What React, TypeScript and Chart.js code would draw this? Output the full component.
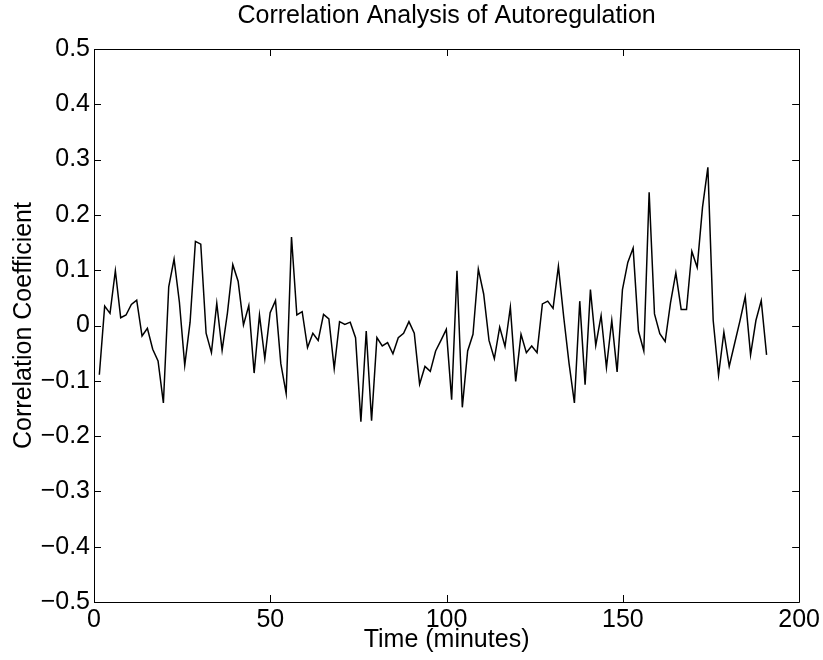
import { useEffect, useRef } from 'react';
import { Chart, registerables } from 'chart.js';

Chart.register(...registerables);

const TITLE = 'Correlation Analysis of Autoregulation';
const X_LABEL = 'Time (minutes)';
const Y_LABEL = 'Correlation Coefficient';

// sampling interval of the series, in minutes
const SAMPLE_INTERVAL_MIN = 1.514;

const X_TICKS = [0, 50, 100, 150, 200];
const Y_TICKS = [-0.5, -0.4, -0.3, -0.2, -0.1, 0, 0.1, 0.2, 0.3, 0.4, 0.5];

const CORRELATION = [
  -0.089, 0.035, 0.022, 0.099, 0.014, 0.019, 0.038, 0.046, -0.019, -0.005,
  -0.043, -0.064, -0.14, 0.07, 0.12, 0.042, -0.072, 0.006, 0.152, 0.147,
  -0.014, -0.049, 0.04, -0.045, 0.023, 0.11, 0.08, 0.001, 0.036, -0.086,
  0.019, -0.06, 0.023, 0.045, -0.069, -0.123, 0.16, 0.019, 0.025, -0.04,
  -0.014, -0.027, 0.02, 0.012, -0.078, 0.007, 0.002, 0.006, -0.022, -0.174,
  -0.01, -0.172, -0.022, -0.037, -0.031, -0.051, -0.022, -0.014, 0.007, -0.014,
  -0.106, -0.074, -0.083, -0.046, -0.027, -0.007, -0.134, 0.099, -0.148, -0.046,
  -0.016, 0.102, 0.057, -0.027, -0.06, -0.003, -0.038, 0.033, -0.101, -0.016,
  -0.049, -0.037, -0.049, 0.039, 0.044, 0.031, 0.107, 0.015, -0.069, -0.14,
  0.044, -0.107, 0.065, -0.036, 0.018, -0.076, 0.009, -0.084, 0.065, 0.114,
  0.14, -0.01, -0.046, 0.241, 0.021, -0.015, -0.029, 0.041, 0.095, 0.029,
  0.029, 0.134, 0.105, 0.214, 0.286, 0.009, -0.09, -0.012, -0.074, -0.033,
  0.008, 0.052, -0.053, 0.009, 0.045, -0.053,
];

const FONT = 'Liberation Sans, Arial, Helvetica, sans-serif';

const framePlugin = {
  id: 'frameAndInwardTicks',
  afterDatasetsDraw(chart: any) {
    const { ctx, chartArea, scales } = chart;
    const { left, right, top, bottom } = chartArea;
    const xs = scales.x;
    const ys = scales.y;
    const L = 7;
    ctx.save();
    ctx.strokeStyle = '#000';
    ctx.lineWidth = 1;
    ctx.beginPath();
    ctx.rect(Math.round(left) + 0.5, Math.round(top) + 0.5, Math.round(right - left), Math.round(bottom - top));
    xs.ticks.forEach((t: any) => {
      const px = Math.round(xs.getPixelForValue(t.value)) + 0.5;
      ctx.moveTo(px, bottom);
      ctx.lineTo(px, bottom - L);
      ctx.moveTo(px, top);
      ctx.lineTo(px, top + L);
    });
    ys.ticks.forEach((t: any) => {
      const py = Math.round(ys.getPixelForValue(t.value)) + 0.5;
      ctx.moveTo(left, py);
      ctx.lineTo(left + L, py);
      ctx.moveTo(right, py);
      ctx.lineTo(right - L, py);
    });
    ctx.stroke();
    ctx.restore();
  },
};

export default function App() {
  const ref = useRef<HTMLCanvasElement | null>(null);

  useEffect(() => {
    if (!ref.current) return;
    const chart = new Chart(ref.current, {
      type: 'line',
      data: {
        datasets: [
          {
            data: CORRELATION.map((v, i) => ({ x: (i + 1) * SAMPLE_INTERVAL_MIN, y: v })),
            borderColor: '#000',
            borderWidth: 1.5,
            pointRadius: 0,
            tension: 0,
            fill: false,
            xAxisID: 'x',
            yAxisID: 'y',
          },
        ],
      },
      options: {
        animation: false,
        responsive: false,
        devicePixelRatio: 1,
        layout: { padding: { top: 0, right: 23, bottom: 0, left: 0 } },
        plugins: {
          legend: { display: false },
          tooltip: { enabled: false },
          title: { display: false },
        },
        scales: {
          x: {
            type: 'linear',
            position: 'bottom',
            min: 0,
            max: 200,
            afterBuildTicks: (s: any) => {
              s.ticks = X_TICKS.map((v) => ({ value: v }));
            },
            afterFit: (s: any) => {
              s.height = 58;
            },
            grid: { display: false, drawTicks: false },
            border: { display: false },
            ticks: {
              color: '#000',
              padding: 3,
              maxRotation: 0,
              font: { family: FONT, size: 25, lineHeight: 1.2 },
              callback: (v: any) => String(v),
            },
            title: {
              display: true,
              text: X_LABEL,
              color: '#000',
              font: { family: FONT, size: 25, lineHeight: 1.2 },
              padding: { top: 0, bottom: 5 },
            },
          },
          titleAxis: {
            type: 'linear',
            position: 'top',
            min: 0,
            max: 200,
            afterFit: (s: any) => {
              s.height = 49;
            },
            grid: { display: false, drawTicks: false },
            border: { display: false },
            ticks: { display: false },
            title: {
              display: true,
              text: TITLE,
              color: '#000',
              font: { family: FONT, size: 25, lineHeight: 1.2 },
              padding: { top: 1, bottom: 0 },
            },
          },
          y: {
            type: 'linear',
            min: -0.5,
            max: 0.5,
            afterBuildTicks: (s: any) => {
              s.ticks = Y_TICKS.map((v) => ({ value: v }));
            },
            afterFit: (s: any) => {
              s.width = 94;
            },
            grid: { display: false, drawTicks: false },
            border: { display: false },
            ticks: {
              color: '#000',
              padding: 4,
              font: { family: FONT, size: 25, lineHeight: 1.2 },
              callback: (v: any) => {
                const n = Number(v);
                if (Math.abs(n) < 1e-9) return '0';
                return (n < 0 ? '\u2212' : '') + Math.abs(n).toFixed(1);
              },
            },
            title: {
              display: true,
              text: Y_LABEL,
              color: '#000',
              font: { family: FONT, size: 25, lineHeight: 1.2 },
              padding: { top: 9, bottom: 0 },
            },
          },
        },
      },
      plugins: [framePlugin],
    });
    return () => chart.destroy();
  }, []);

  return (
    <div style={{ position: 'fixed', left: 0, top: 0, width: 823, height: 660, background: '#fff' }}>
      <canvas ref={ref} width={823} height={660} style={{ display: 'block', width: 823, height: 660 }} />
    </div>
  );
}
